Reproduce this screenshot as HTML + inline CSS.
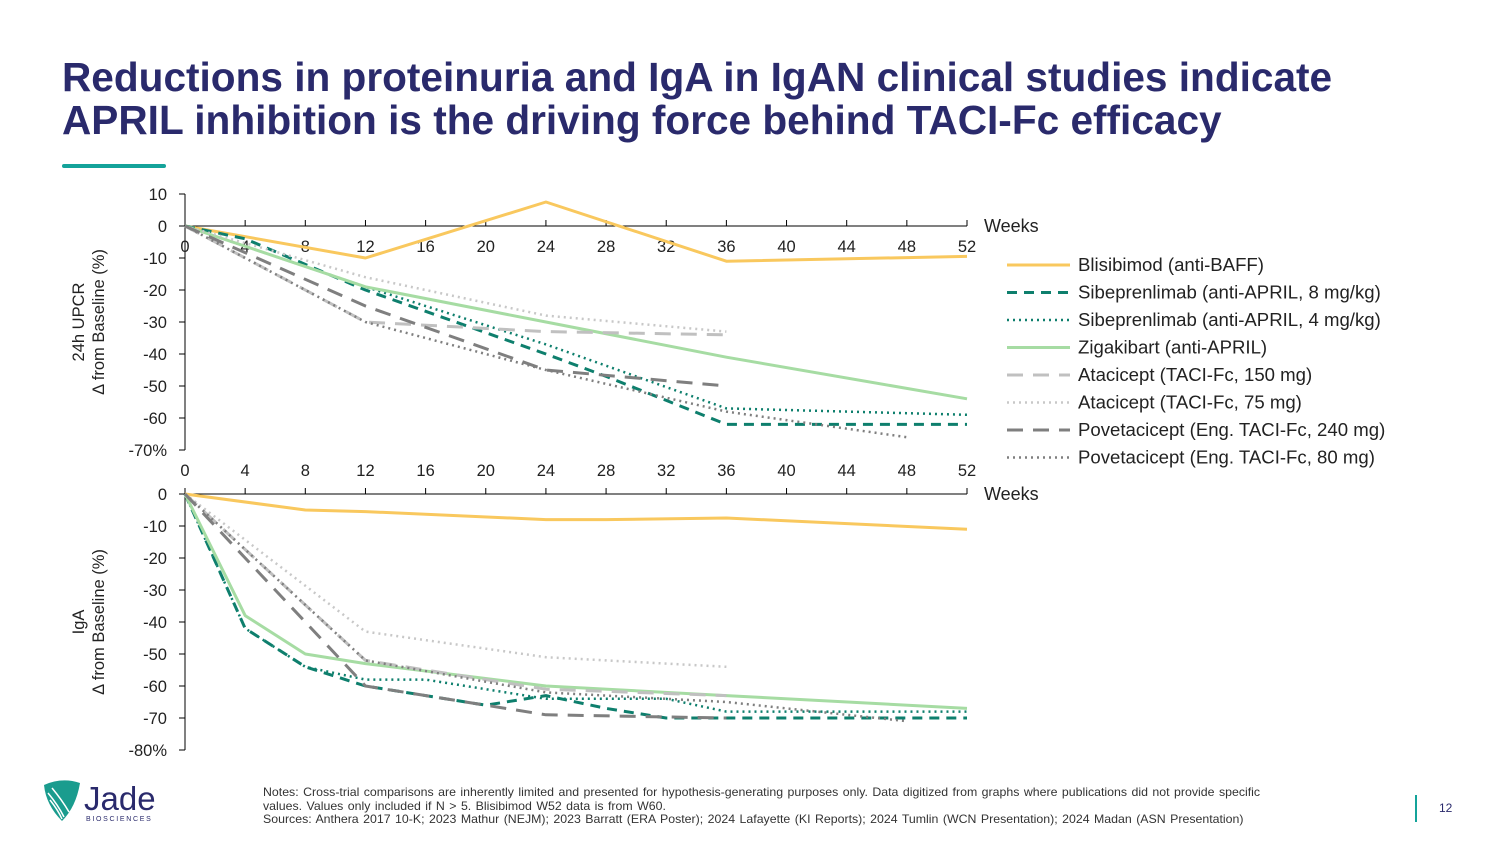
<!DOCTYPE html>
<html><head><meta charset="utf-8">
<style>
html,body{margin:0;padding:0;background:#fff;}
body{width:1500px;height:844px;position:relative;overflow:hidden;font-family:"Liberation Sans",sans-serif;}
.title{position:absolute;left:62px;top:56px;font-size:40.6px;font-weight:bold;color:#2a2a6c;line-height:43px;letter-spacing:0px;white-space:nowrap;}
.rule{position:absolute;left:62px;top:164px;width:104px;height:4px;background:#14a39a;border-radius:2px;}
.notes{position:absolute;left:263px;top:786px;font-size:12px;color:#333;line-height:13.5px;width:1100px;word-spacing:1px;white-space:nowrap;transform:scaleX(1.028);transform-origin:0 0;}
.pg{position:absolute;left:1439px;top:801px;font-size:12px;color:#2a2a6c;}
.bar{position:absolute;left:1415px;top:795px;width:2px;height:27px;background:#14a39a;}
svg{position:absolute;left:0;top:0;}
</style></head><body>
<div class="title">Reductions in proteinuria and IgA in IgAN clinical studies indicate<br>APRIL inhibition is the driving force behind TACI-Fc efficacy</div>
<div class="rule"></div>
<svg id="chart" width="1500" height="844"></svg>
<div class="notes">Notes: Cross-trial comparisons are inherently limited and presented for hypothesis-generating purposes only. Data digitized from graphs where publications did not provide specific<br>values. Values only included if N &gt; 5. Blisibimod W52 data is from W60.<br>Sources: Anthera 2017 10-K; 2023 Mathur (NEJM); 2023 Barratt (ERA Poster); 2024 Lafayette (KI Reports); 2024 Tumlin (WCN Presentation); 2024 Madan (ASN Presentation)</div>
<div class="bar"></div>
<div class="pg">12</div>
<svg width="150" height="60" style="left:40px;top:775px">
<path d="M4 10 Q22 2 40 8 Q36 32 22 46 Q6 30 4 10Z" fill="#1a9c8e"/>
<path d="M8 18 Q18 30 24 42 M10 25 Q18 35 22 44 M12 13 Q22 25 29 37" stroke="#fff" stroke-width="1.5" fill="none"/>
<text x="44" y="35" font-size="33" fill="#2a2a6c" font-family="Liberation Sans,sans-serif">Jade</text>
<text x="46" y="46" font-size="7" fill="#2a2a6c" letter-spacing="1.7" font-family="Liberation Sans,sans-serif">BIOSCIENCES</text>
</svg>
<script>
const weeks=[0,4,8,12,16,20,24,28,32,36,40,44,48,52];
const topTicks=[10,0,-10,-20,-30,-40,-50,-60,-70];
const botTicks=[0,-10,-20,-30,-40,-50,-60,-70,-80];
const seriesNames=["Blisibimod (anti-BAFF)","Sibeprenlimab (anti-APRIL, 8 mg/kg)","Sibeprenlimab (anti-APRIL, 4 mg/kg)","Zigakibart (anti-APRIL)","Atacicept (TACI-Fc, 150 mg)","Atacicept (TACI-Fc, 75 mg)","Povetacicept (Eng. TACI-Fc, 240 mg)","Povetacicept (Eng. TACI-Fc, 80 mg)"];
// UPCR top chart [week, value]
const upcrBlisibimod=[[0,0],[12,-10],[24,7.5],[36,-11],[52,-9.5]];
const upcrSib8=[[0,0],[4,-4],[8,-12],[12,-20],[24,-40],[28,-47],[36,-62],[52,-62]];
const upcrSib4=[[0,0],[12,-19],[24,-37],[36,-57],[52,-59]];
const upcrZiga=[[0,0],[12,-19],[24,-30],[36,-41],[52,-54]];
const upcrAta150=[[0,0],[12,-30],[24,-33],[36,-34]];
const upcrAta75=[[0,0],[12,-16],[24,-28],[36,-33]];
const upcrPove240=[[0,0],[12,-25],[24,-45],[36,-50]];
const upcrPove80=[[0,0],[12,-30],[24,-45],[36,-58],[48,-66]];
// IgA bottom chart
const igaBlisibimod=[[0,0],[8,-5],[12,-5.5],[24,-8],[28,-8],[36,-7.5],[52,-11]];
const igaSib8=[[0,0],[4,-42],[8,-54],[12,-60],[20,-66],[24,-63],[28,-67],[32,-70],[36,-70],[52,-70]];
const igaSib4=[[0,0],[4,-42],[8,-54],[12,-58],[16,-58],[24,-64],[32,-64],[36,-68],[52,-68]];
const igaZiga=[[0,0],[4,-38],[8,-50],[12,-53],[24,-60],[36,-63],[52,-67]];
const igaAta150=[[0,0],[12,-52],[24,-61],[36,-63]];
const igaAta75=[[0,0],[12,-43],[24,-51],[36,-54]];
const igaPove240=[[0,0],[12,-60],[24,-69],[36,-70]];
const igaPove80=[[0,0],[12,-52],[24,-62],[32,-64],[36,-65],[48,-71]];

const styles=[
 {c:"#f9c85e",d:"",w:3},{c:"#0e7f6d",d:"10,7",w:3},{c:"#0e7f6d",d:"2,4",w:2.5},{c:"#a6dca3",d:"",w:3},
 {c:"#c0c0c0",d:"16,10",w:3},{c:"#c8c8c8",d:"2,4",w:2.5},{c:"#7f7f7f",d:"16,10",w:3},{c:"#7f7f7f",d:"2,4",w:2.5}];
const NS="http://www.w3.org/2000/svg";
const svg=document.getElementById('chart');
function el(t,a){const e=document.createElementNS(NS,t);for(const k in a)e.setAttribute(k,a[k]);svg.appendChild(e);return e;}
const X0=185,X1=967;
const xs=w=>X0+(X1-X0)*w/52;
function panel(name,y0px,vMax,vMin,ticks,series,xlabelY){
 const ys=v=>y0px+(vMax-v)*(256/(vMax-vMin));
 let e=el('line',{x1:X0,y1:ys(vMax),x2:X0,y2:ys(vMin),stroke:'#000','stroke-width':1});
 
 ticks.forEach((t,i)=>{
  el('line',{x1:X0-6,y1:ys(t),x2:X0,y2:ys(t),stroke:'#000'});
  const tx=el('text',{x:X0-18,y:ys(t)+6,'text-anchor':'end','font-size':16.5,fill:'#222'});
  tx.textContent=t+(i==ticks.length-1?'%':'');
  
 });
 const ay=ys(0);
 e=el('line',{x1:X0,y1:ay,x2:X1,y2:ay,stroke:'#000','stroke-width':1});
 
 weeks.forEach(w=>{
  el('line',{x1:xs(w),y1:ay-6,x2:xs(w),y2:ay,stroke:'#000'});
  if(xlabelY){const tx=el('text',{x:xs(w),y:xlabelY,'text-anchor':'middle','font-size':16.5,fill:'#222'});tx.textContent=w;
  }
 });
 const wl=el('text',{x:984,y:ay+6,'font-size':18,fill:'#222'});wl.textContent='Weeks';
 
 series.forEach((s,i)=>{
  const p=el('polyline',{points:s.map(d=>xs(d[0])+','+ys(d[1])).join(' '),fill:'none',stroke:styles[i].c,'stroke-width':styles[i].w,'stroke-dasharray':styles[i].d,'stroke-linejoin':'round'});
  
 });
}
panel('upcr',194,10,-70,topTicks,[upcrBlisibimod,upcrSib8,upcrSib4,upcrZiga,upcrAta150,upcrAta75,upcrPove240,upcrPove80],252);
weeks.forEach(w=>{const tx=el('text',{x:xs(w),y:476,'text-anchor':'middle','font-size':16.5,fill:'#222'});tx.textContent=w;
 });
panel('iga',494,0,-80,botTicks,[igaBlisibimod,igaSib8,igaSib4,igaZiga,igaAta150,igaAta75,igaPove240,igaPove80],null);
function ytitle(lines,cx,cy,name){
 lines.forEach((l,i)=>{const t=el('text',{x:0,y:0,'text-anchor':'middle','font-size':16.5,fill:'#222',transform:`translate(${cx+i*20},${cy}) rotate(-90)`});t.textContent=l;
 });
}
ytitle(['24h UPCR','Δ from Baseline (%)'],84,322,'upcr-y-axis-title');
ytitle(['IgA','Δ from Baseline (%)'],84,622,'iga-y-axis-title');
seriesNames.forEach((n,i)=>{
 const y=265+i*27.5;
 const l=el('line',{x1:1007,y1:y,x2:1070,y2:y,stroke:styles[i].c,'stroke-width':styles[i].w,'stroke-dasharray':styles[i].d});
 
 const t=el('text',{x:1078,y:y+6,'font-size':18.6,fill:'#222'});t.textContent=n;
 
});
</script>
</body></html>
